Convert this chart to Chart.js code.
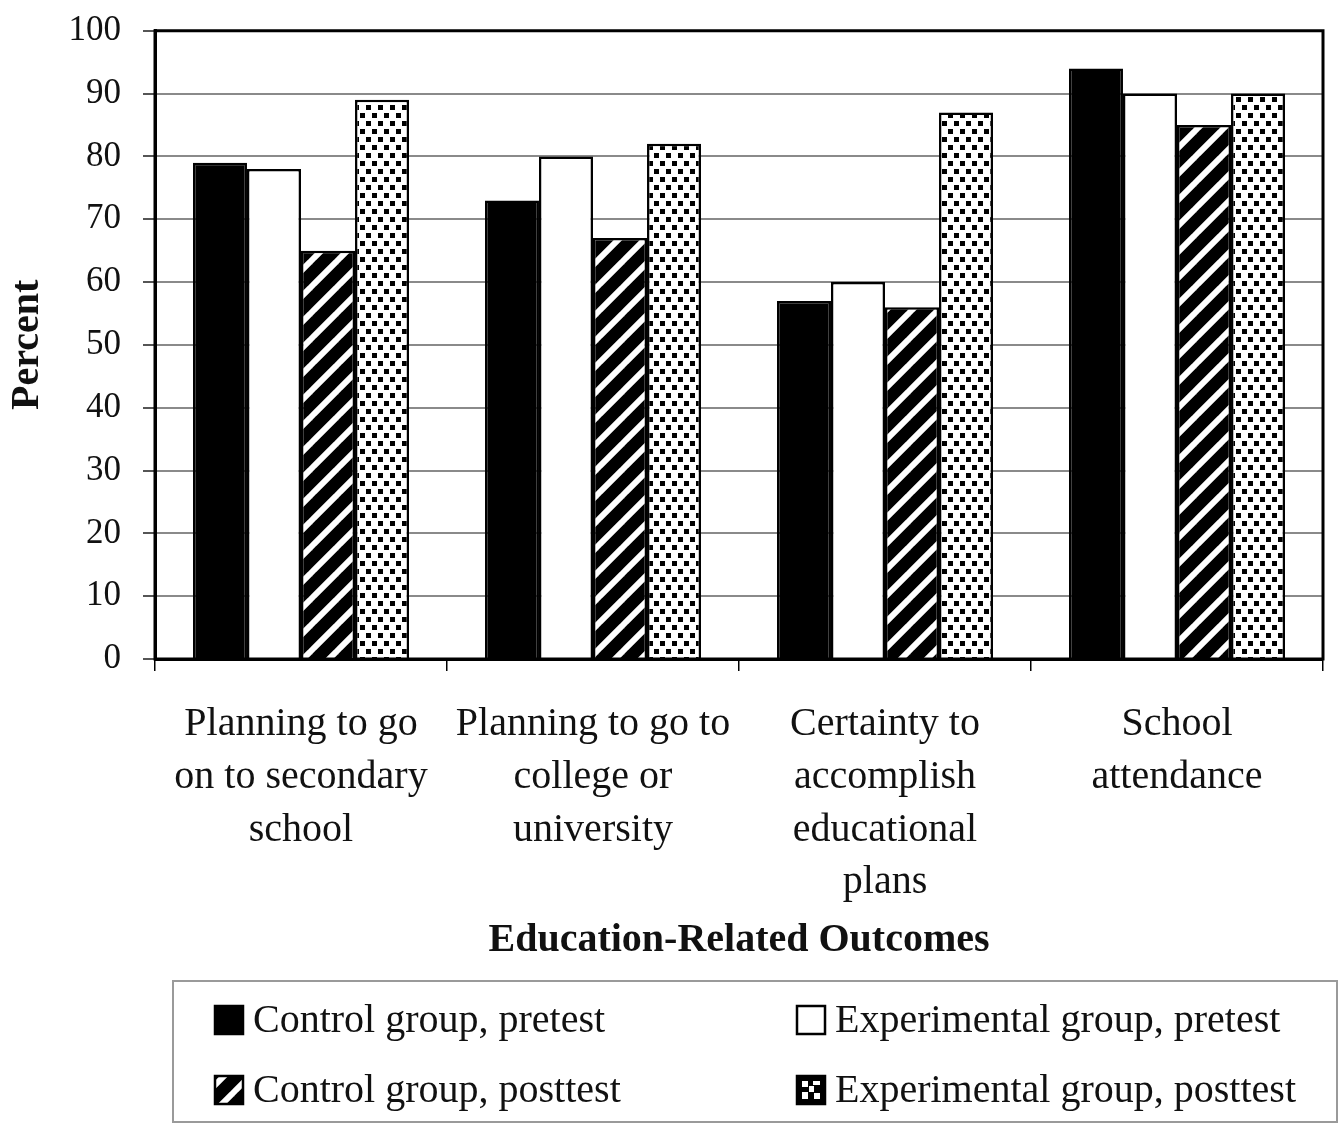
<!DOCTYPE html>
<html><head><meta charset="utf-8">
<script src="https://cdn.jsdelivr.net/npm/chart.js@4/dist/chart.umd.min.js"></script>
<style>html,body{margin:0;padding:0;background:#fff}canvas{display:block}</style>
</head><body>
<canvas id="c" width="1342" height="1125"></canvas>
<script>
// ---- data ----
const categories = [
  ["Planning to go", "on to secondary", "school"],
  ["Planning to go to", "college or", "university"],
  ["Certainty to", "accomplish", "educational", "plans"],
  ["School", "attendance"]
];
const seriesNames = ["Control group, pretest", "Experimental group, pretest", "Control group, posttest", "Experimental group, posttest"];
const controlPretest = [79, 73, 57, 94];
const experimentalPretest = [78, 80, 60, 90];
const controlPosttest = [65, 67, 56, 85];
const experimentalPosttest = [89, 82, 87, 90];
const yTickValues = [0, 10, 20, 30, 40, 50, 60, 70, 80, 90, 100];
const xTitle = "Education-Related Outcomes";
const yTitle = "Percent";

// ---- patterns ----
function stripePattern() {
  const s = 26;
  const c = document.createElement('canvas'); c.width = s; c.height = s;
  const x = c.getContext('2d');
  x.fillStyle = '#000'; x.fillRect(0, 0, s, s);
  x.strokeStyle = '#fff'; x.lineWidth = 6;
  for (const o of [-s, 0, s]) {
    x.beginPath(); x.moveTo(o - 2, s + 2); x.lineTo(o + s + 2, -2); x.stroke();
  }
  return x.createPattern(c, 'repeat');
}
function dotPattern() {
  const w = 12, h = 16;
  const c = document.createElement('canvas'); c.width = w; c.height = h;
  const x = c.getContext('2d');
  x.fillStyle = '#fff'; x.fillRect(0, 0, w, h);
  x.fillStyle = '#000';
  x.fillRect(0, 1, 5, 5);
  x.fillRect(6, 9, 5, 5);
  return x.createPattern(c, 'repeat');
}
const ctx = document.getElementById('c').getContext('2d');
const fills = ['#000', '#fff', stripePattern(), dotPattern()];
const seriesData = [controlPretest, experimentalPretest, controlPosttest, experimentalPosttest];

const FONT = "'Liberation Serif', 'Times New Roman', serif";

const framePlugin = {
  id: 'frame',
  afterDatasetsDraw(chart) {
    const {ctx, chartArea: a} = chart;
    ctx.save();
    ctx.strokeStyle = '#000';
    ctx.lineWidth = 3;
    ctx.strokeRect(a.left, a.top, a.right - a.left, a.bottom - a.top);
    ctx.restore();
  }
};

const legendPlugin = {
  id: 'boxLegend',
  afterDraw(chart) {
    const c = chart.ctx;
    c.save();
    c.strokeStyle = '#9a9a9a';
    c.lineWidth = 2;
    c.strokeRect(173, 981, 1164, 141);
    const cols = [215, 797];
    const rows = [1020, 1090];
    [0, 1, 2, 3].forEach((di, i) => {
      const x = cols[i % 2], y = rows[Math.floor(i / 2)];
      const ds = chart.data.datasets[di];
      if (di === 3) {
        c.fillStyle = '#000';
        c.fillRect(x, y - 14, 28, 28);
        c.fillStyle = '#fff';
        c.fillRect(x + 5, y - 9, 6, 6);
        c.fillRect(x + 16, y - 9, 7, 4);
        c.fillRect(x + 12, y - 4, 5, 6);
        c.fillRect(x + 5, y + 2, 6, 7);
        c.fillRect(x + 17, y + 3, 6, 6);
      } else {
        c.fillStyle = ds.backgroundColor;
        c.fillRect(x, y - 14, 28, 28);
      }
      c.strokeStyle = '#000';
      c.lineWidth = 2.5;
      c.strokeRect(x, y - 14, 28, 28);
      c.fillStyle = '#111';
      c.font = '40px ' + FONT;
      c.textAlign = 'left';
      c.textBaseline = 'middle';
      c.fillText(ds.label, x + 38, y + 1);
    });
    c.restore();
  }
};

new Chart(ctx, {
  type: 'bar',
  data: {
    labels: categories,
    datasets: seriesNames.map((n, i) => ({
      label: n,
      data: seriesData[i],
      backgroundColor: fills[i],
      borderColor: '#000',
      borderWidth: 2.5,
      categoryPercentage: 0.74,
      barPercentage: 1.0
    }))
  },
  options: {
    responsive: false,
    animation: false,
    devicePixelRatio: 1,
    layout: { padding: { top: 24, right: 19, left: 0, bottom: 160 } },
    plugins: { legend: { display: false }, tooltip: { enabled: false } },
    scales: {
      x: {
        offset: true,
        grid: { display: true, offset: true, drawOnChartArea: false, drawTicks: true, tickLength: 12, color: '#000', lineWidth: 1.5 },
        border: { display: true, color: '#000', width: 3 },
        ticks: { color: '#111', font: { family: FONT, size: 40, lineHeight: 1.32 }, padding: 27, maxRotation: 0, autoSkip: false },
        title: { display: true, text: xTitle, color: '#111', font: { family: FONT, size: 40, weight: 'bold', lineHeight: 1.2 }, padding: { top: 0, bottom: 0 } },
        afterFit(s) { s.height = 306; }
      },
      y: {
        min: 0, max: 100,
        afterBuildTicks(s) { s.ticks = yTickValues.map(v => ({ value: v })); },
        grid: { color: '#8a8a8a', lineWidth: 2, tickLength: 12, tickColor: '#555' },
        border: { display: true, color: '#000', width: 3 },
        ticks: { color: '#111', font: { family: FONT, size: 35, lineHeight: 0.5 }, padding: 22 },
        title: { display: true, text: yTitle, color: '#111', font: { family: FONT, size: 40, weight: 'bold', lineHeight: 1.2 }, padding: { top: 4, bottom: 0 } },
        afterFit(s) { s.width = 155; }
      }
    }
  },
  plugins: [framePlugin, legendPlugin]
});
</script>
</body></html>
